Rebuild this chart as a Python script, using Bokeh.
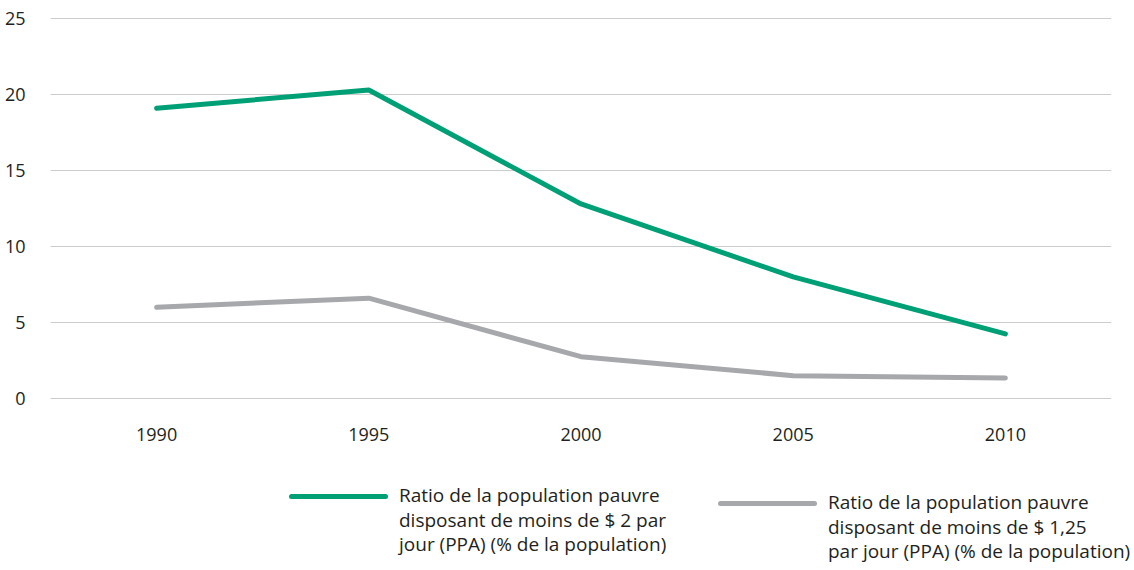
from bokeh.plotting import figure
from bokeh.layouts import column
from bokeh.models import FixedTicker, Div
from bokeh.embed import file_html
from bokeh.resources import INLINE

years = ["1990", "1995", "2000", "2005", "2010"]
ratio_2usd = [19.1, 20.3, 12.8, 8.0, 4.25]
ratio_125usd = [6.0, 6.6, 2.75, 1.5, 1.35]
y_ticks = [0, 5, 10, 15, 20, 25]
label_2usd = ["Ratio de la population pauvre",
              "disposant de moins de $ 2 par",
              "jour (PPA) (% de la population)"]
label_125usd = ["Ratio de la population pauvre",
                "disposant de moins de $ 1,25",
                "par jour (PPA) (% de la population)"]

GREEN = "#00a077"
GREY = "#a7a8ab"
FONT = "Open Sans"
TXT = "#231f20"

p = figure(x_range=years, y_range=(-0.2, 25.2), width=1134, height=460,
           output_backend="svg", toolbar_location=None,
           min_border_left=50, min_border_right=23, min_border_top=15, min_border_bottom=59)
p.outline_line_color = None
p.background_fill_color = "white"
p.border_fill_color = "white"

p.line(years, ratio_2usd, line_color=GREEN, line_width=5, line_cap="round", line_join="round")
p.line(years, ratio_125usd, line_color=GREY, line_width=5, line_cap="round", line_join="round")

p.x_range.range_padding = 0
p.xgrid.grid_line_color = None
p.ygrid.grid_line_color = "#cccccc"
p.ygrid.grid_line_width = 1
p.yaxis.ticker = FixedTicker(ticks=y_ticks)

for ax in (p.xaxis[0], p.yaxis[0]):
    ax.axis_line_color = None
    ax.major_tick_line_color = None
    ax.minor_tick_line_color = None
    ax.major_label_text_font = FONT
    ax.major_label_text_font_size = "18px"
    ax.major_label_text_color = TXT
p.yaxis.major_label_standoff = 19
p.xaxis.major_label_standoff = 20

# legend strip below the chart (HTML text, swatches in series colours)
def legend_block(color, lines, sw_left, sw_top, tx_left, tx_top):
    swatch = (f'<div style="position:absolute;left:{sw_left}px;top:{sw_top}px;width:99px;'
              f'height:5px;border-radius:3px;background:{color};"></div>')
    text = (f'<div style="position:absolute;left:{tx_left}px;top:{tx_top}px;white-space:nowrap;'
            f'font-size:19px;line-height:24.5px;">' + "<br>".join(lines) + "</div>")
    return swatch + text

html = ('<div style="position:relative;width:1134px;height:110px;'
        f"font-family:'{FONT}',sans-serif;color:{TXT};\">"
        + legend_block(GREEN, label_2usd, 289, 34, 399, 23)
        + legend_block(GREY, label_125usd, 718, 41, 828, 30)
        + "</div>")
legend_div = Div(text=html, width=1134, height=110, margin=(0, 0, 0, 0))

layout = column(p, legend_div, spacing=0)
open("out.html", "w").write(file_html(layout, INLINE))
